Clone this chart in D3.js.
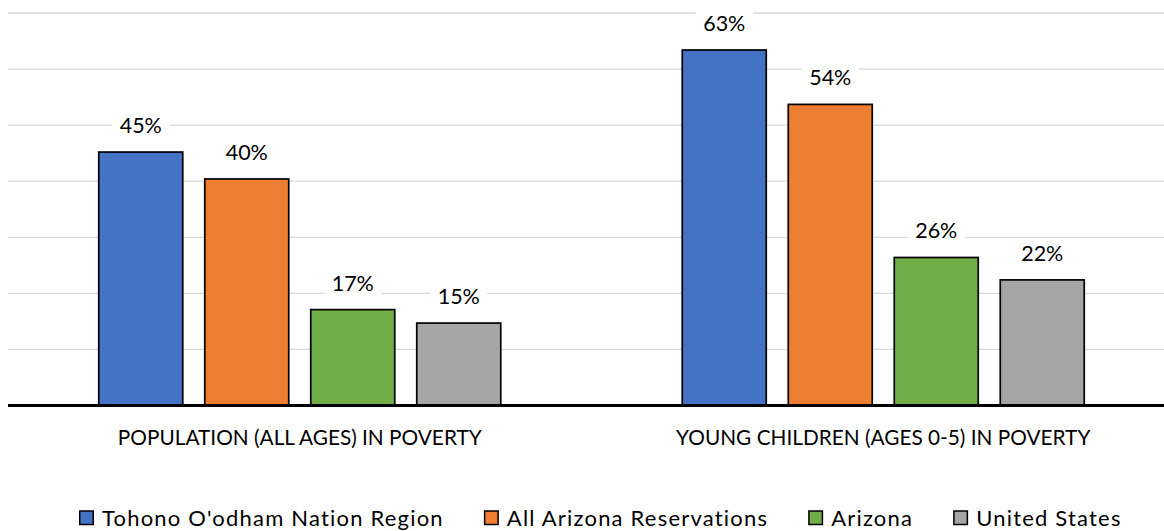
<!DOCTYPE html>
<html><head><meta charset="utf-8">
<script src="https://cdn.jsdelivr.net/npm/d3@7"></script>
<style>html,body{margin:0;padding:0;background:#fff}svg{display:block}</style>
</head><body>
<svg id="chart" width="1164" height="531"></svg>
<script>
const categories = ["POPULATION (ALL AGES) IN POVERTY", "YOUNG CHILDREN (AGES 0-5) IN POVERTY"];
const seriesNames = ["Tohono O'odham Nation Region", "All Arizona Reservations", "Arizona", "United States"];
const seriesColors = ["#4472C4", "#ED7D31", "#70AD47", "#A5A5A5"];
const tohonoValues = [45.2, 63.4];
const reservationsValues = [40.4, 53.7];
const arizonaValues = [17.1, 26.4];
const usValues = [14.7, 22.4];
const yTicks = [0, 10, 20, 30, 40, 50, 60, 70];

const series = [tohonoValues, reservationsValues, arizonaValues, usValues];
const svg = d3.select("#chart");
const W = 1164, H = 531;
const font = "Lato, 'Open Sans', sans-serif";
const fs = 20.8;

const plot = {left: 8, right: 1175, top: 13, bottom: 405.5};
const y = d3.scaleLinear().domain([0, 70]).range([plot.bottom, plot.top]);
const x0 = d3.scaleBand().domain(categories).range([plot.left, plot.right]).paddingInner(0).paddingOuter(0);
const groupInner = 402;
const x1 = d3.scaleBand().domain(seriesNames).range([0, groupInner]).paddingInner(22/106).paddingOuter(0);

// gridlines
svg.append("g").selectAll("line").data(yTicks.slice(1)).join("line")
  .attr("x1", plot.left).attr("x2", W)
  .attr("y1", d => y(d)).attr("y2", d => y(d))
  .attr("stroke", "#D9D9D9").attr("stroke-width", 1.3);

const groups = svg.append("g").selectAll("g").data(categories).join("g")
  .attr("transform", c => `translate(${x0(c) + (x0.bandwidth() - groupInner)/2},0)`);

groups.each(function(c, ci) {
  const g = d3.select(this);
  seriesNames.forEach((s, si) => {
    const v = series[si][ci];
    g.append("rect")
      .attr("x", x1(s)).attr("width", x1.bandwidth())
      .attr("y", y(v)).attr("height", y(0) - y(v))
      .attr("fill", seriesColors[si]).attr("stroke", "#000").attr("stroke-width", 1.7);
    const lg = g.append("g");
    const t = lg.append("text")
      .attr("x", x1(s) + x1.bandwidth()/2).attr("y", y(v) - 19)
      .attr("text-anchor", "middle").attr("font-family", font).attr("font-size", 21.5)
      .attr("fill", "#000").text(Math.round(v) + "%");
    const bb = t.node().getBBox();
    lg.insert("rect", "text").attr("x", bb.x - 7.5).attr("y", bb.y - 2)
      .attr("width", bb.width + 15).attr("height", bb.height + 4).attr("fill", "#fff");
  });
});

// baseline
svg.append("line").attr("x1", plot.left).attr("x2", W)
  .attr("y1", y(0)).attr("y2", y(0)).attr("stroke", "#000").attr("stroke-width", 3);

// category labels
const xAxis = d3.axisBottom(x0).tickSize(0).tickPadding(0);
const ax = svg.append("g").attr("transform", `translate(0,${y(0)})`).call(xAxis);
ax.select(".domain").remove();
ax.selectAll("text").attr("font-family", font).attr("font-size", fs).attr("fill", "#000")
  .attr("dy", null).attr("y", 39);

// legend
const legend = svg.append("g").attr("transform", "translate(79,525.5)");
let lx = 0;
seriesNames.forEach((s, i) => {
  const item = legend.append("g").attr("transform", `translate(${lx},0)`);
  item.append("rect").attr("x", 0.75).attr("y", -14.5).attr("width", 13.5).attr("height", 13.5)
    .attr("fill", seriesColors[i]).attr("stroke", "#000").attr("stroke-width", 1.5);
  const t = item.append("text").attr("x", 23).attr("y", 0)
    .attr("font-family", font).attr("font-size", 22).attr("letter-spacing", 1.2)
    .attr("fill", "#000").text(s);
  lx += 23 + t.node().getComputedTextLength() + 40;
});
</script>
</body></html>
